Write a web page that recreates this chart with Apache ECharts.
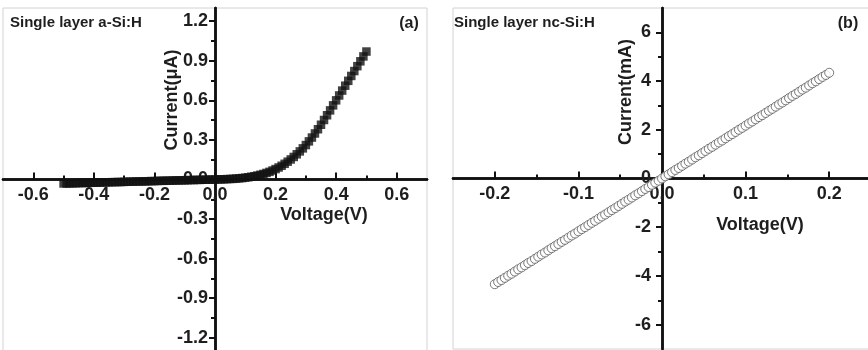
<!DOCTYPE html>
<html><head><meta charset="utf-8">
<script src="https://cdn.jsdelivr.net/npm/echarts@6/dist/echarts.min.js"></script>
<style>html,body{margin:0;padding:0;background:#fff}#c{width:868px;height:350px}</style>
</head><body><div id="c"></div><script>
// Panel (a): single layer a-Si:H, current in µA
const voltageA = [-0.50,-0.49,-0.48,-0.47,-0.46,-0.45,-0.44,-0.43,-0.42,-0.41,-0.40,-0.39,-0.38,-0.37,-0.36,-0.35,-0.34,-0.33,-0.32,-0.31,-0.30,-0.29,-0.28,-0.27,-0.26,-0.25,-0.24,-0.23,-0.22,-0.21,-0.20,-0.19,-0.18,-0.17,-0.16,-0.15,-0.14,-0.13,-0.12,-0.11,-0.10,-0.09,-0.08,-0.07,-0.06,-0.05,-0.04,-0.03,-0.02,-0.01,
  0.00,0.01,0.02,0.03,0.04,0.05,0.06,0.07,0.08,0.09,0.10,0.11,0.12,0.13,0.14,0.15,0.16,0.17,0.18,0.19,0.20,0.21,0.22,0.23,0.24,0.25,0.26,0.27,0.28,0.29,0.30,0.31,0.32,0.33,0.34,0.35,0.36,0.37,0.38,0.39,0.40,0.41,0.42,0.43,0.44,0.45,0.46,0.47,0.48,0.49,0.50];
const currentA = [-0.030,-0.030,-0.029,-0.029,-0.028,-0.027,-0.027,-0.026,-0.026,-0.025,-0.024,-0.024,-0.023,-0.022,-0.022,-0.021,-0.020,-0.020,-0.019,-0.019,-0.018,-0.017,-0.017,-0.016,-0.015,-0.015,-0.014,-0.014,-0.013,-0.012,-0.012,-0.011,-0.010,-0.010,-0.009,-0.009,-0.008,-0.007,-0.007,-0.006,-0.006,-0.005,-0.004,-0.004,-0.003,-0.003,-0.002,-0.002,-0.001,-0.001,
  0.000,0.001,0.001,0.002,0.003,0.004,0.005,0.007,0.009,0.011,
  0.014,0.017,0.021,0.025,0.030,0.036,0.042,0.050,0.058,0.068,
  0.079,0.091,0.104,0.119,0.135,0.152,0.171,0.191,0.213,0.236,
  0.261,0.289,0.318,0.349,0.381,0.415,0.451,0.487,0.524,0.562,
  0.600,0.637,0.674,0.711,0.748,0.785,0.822,0.859,0.896,0.933,0.970];
// Panel (b): single layer nc-Si:H, current in mA
const voltageB = [-0.2,-0.196,-0.192,-0.188,-0.184,-0.18,-0.176,-0.172,-0.168,-0.164,-0.16,-0.156,-0.152,-0.148,-0.144,-0.14,-0.136,-0.132,-0.128,-0.124,-0.12,-0.116,-0.112,-0.108,-0.104,-0.1,-0.096,-0.092,-0.088,-0.084,-0.08,-0.076,-0.072,-0.068,-0.064,-0.06,-0.056,-0.052,-0.048,-0.044,-0.04,-0.036,-0.032,-0.028,-0.024,-0.02,-0.016,-0.012,-0.008,-0.004,
  0,0.004,0.008,0.012,0.016,0.02,0.024,0.028,0.032,0.036,0.04,0.044,0.048,0.052,0.056,0.06,0.064,0.068,0.072,0.076,0.08,0.084,0.088,0.092,0.096,0.1,0.104,0.108,0.112,0.116,0.12,0.124,0.128,0.132,0.136,0.14,0.144,0.148,0.152,0.156,0.16,0.164,0.168,0.172,0.176,0.18,0.184,0.188,0.192,0.196,0.2];
const currentB = [-4.34,-4.25,-4.17,-4.08,-3.99,-3.91,-3.82,-3.73,-3.65,-3.56,-3.47,-3.39,-3.30,-3.21,-3.12,-3.04,-2.95,-2.86,-2.78,-2.69,-2.60,-2.52,-2.43,-2.34,-2.26,-2.17,-2.08,-2.00,-1.91,-1.82,-1.74,-1.65,-1.56,-1.48,-1.39,-1.30,-1.22,-1.13,-1.04,-0.95,-0.87,-0.78,-0.69,-0.61,-0.52,-0.43,-0.35,-0.26,-0.17,-0.09,
  0,0.09,0.17,0.26,0.35,0.43,0.52,0.61,0.69,0.78,0.87,0.95,1.04,1.13,1.22,1.30,1.39,1.48,1.56,1.65,1.74,1.82,1.91,2.00,2.08,2.17,2.26,2.34,2.43,2.52,2.60,2.69,2.78,2.86,2.95,3.04,3.12,3.21,3.30,3.39,3.47,3.56,3.65,3.73,3.82,3.91,3.99,4.08,4.17,4.25,4.34];
// Tick values
const xTicksA = [-0.6,-0.4,-0.2,0,0.2,0.4,0.6];
const xMinorA = [-0.5,-0.3,-0.1,0.1,0.3,0.5];
const yTicksA = [-1.2,-0.9,-0.6,-0.3,0,0.3,0.6,0.9,1.2];
const yMinorA = [-1.05,-0.75,-0.45,-0.15,0.15,0.45,0.75,1.05];
const xTicksB = [-0.2,-0.1,0,0.1,0.2];
const xMinorB = [-0.15,-0.05,0.05,0.15];
const yTicksB = [-6,-4,-2,0,2,4,6];
const yMinorB = [-5,-3,-1,1,3,5];
// Texts
const titleA = 'Single layer a-Si:H', titleB = 'Single layer nc-Si:H';
const yNameA = 'Current(\u03bcA)', yNameB = 'Current(mA)', xName = 'Voltage(V)';

const FONT = '"Liberation Sans", Arial, sans-serif';
const TXT = '#1e1e1e';
const AX = '#111';
const LBL = 18;

// axis ranges
const xRangeA = [-0.7, 0.7], yRangeA = [-1.3, 1.3];
const xRangeB = [-0.25, 0.25], yRangeB = [-7, 7];
const gridA = {left: 3, top: 8, width: 424, height: 343};
const gridB = {left: 453, top: 8, width: 418, height: 341};

// offset that moves an axis from the grid edge to the zero of the other axis
const zeroOff = (range, size) => -((0 - range[0]) / (range[1] - range[0])) * size;

function xAx(grid, range, g, yRange, ticks, len, labels, fmt) {
  return {
    type: 'value', gridIndex: grid, min: range[0], max: range[1], position: 'bottom',
    offset: zeroOff(yRange, g.height),
    axisLine: {show: true, onZero: false, lineStyle: {color: AX, width: 2.5}},
    axisTick: {show: true, inside: true, length: len, customValues: ticks, lineStyle: {color: AX, width: 2}},
    axisLabel: labels ? {customValues: ticks, formatter: fmt, fontSize: LBL, fontWeight: 'bold', fontFamily: FONT, color: TXT, margin: 7} : {show: false},
    splitLine: {show: false}
  };
}
function yAx(grid, range, g, xRange, ticks, len, labels, fmt, margin) {
  return {
    type: 'value', gridIndex: grid, min: range[0], max: range[1], position: 'left',
    offset: zeroOff(xRange, g.width),
    axisLine: {show: true, onZero: false, lineStyle: {color: AX, width: 2.5}},
    axisTick: {show: true, inside: false, length: len, customValues: ticks, lineStyle: {color: AX, width: 2}},
    axisLabel: labels ? {customValues: ticks, formatter: fmt, fontSize: LBL, fontWeight: 'bold', fontFamily: FONT, color: TXT, margin: margin} : {show: false},
    splitLine: {show: false}
  };
}
const f1 = v => Number(v).toFixed(1);
const f0 = v => String(Math.round(v));

function txt(text, x, y, size, align, rot) {
  return {
    type: 'text', x: x, y: y, rotation: rot || 0, z: 10,
    style: {text: text, font: 'bold ' + size + 'px ' + FONT, fill: TXT,
      align: align, verticalAlign: 'middle', textAlign: align, textVerticalAlign: 'middle'}
  };
}

const base = {containLabel: false, outerBoundsMode: 'none'};

const chart = echarts.init(document.getElementById('c'), null, {renderer: 'canvas'});
chart.setOption({
  animation: false,
  backgroundColor: '#fff',
  grid: [
    Object.assign({show: true, borderColor: '#d2d2d2', borderWidth: 1, backgroundColor: 'transparent'}, base, gridA),
    Object.assign({show: false}, base, gridA),
    Object.assign({show: true, borderColor: '#d2d2d2', borderWidth: 1, backgroundColor: 'transparent'}, base, gridB),
    Object.assign({show: false}, base, gridB)
  ],
  xAxis: [
    xAx(0, xRangeA, gridA, yRangeA, xTicksA, 7, true, f1),
    xAx(1, xRangeA, gridA, yRangeA, xMinorA, 4, false),
    xAx(2, xRangeB, gridB, yRangeB, xTicksB, 7, true, f1),
    xAx(3, xRangeB, gridB, yRangeB, xMinorB, 4, false)
  ],
  yAxis: [
    yAx(0, yRangeA, gridA, xRangeA, yTicksA, 6, true, f1, 7),
    yAx(1, yRangeA, gridA, xRangeA, yMinorA, 4, false),
    yAx(2, yRangeB, gridB, xRangeB, yTicksB, 6, true, f0, 11),
    yAx(3, yRangeB, gridB, xRangeB, yMinorB, 4, false)
  ],
  series: [
    {type: 'scatter', xAxisIndex: 0, yAxisIndex: 0, symbol: 'rect', symbolSize: 8.5,
      itemStyle: {color: '#111'}, data: voltageA.map((v, i) => [v, currentA[i]])},
    {type: 'scatter', xAxisIndex: 2, yAxisIndex: 2, symbol: 'circle', symbolSize: 9,
      itemStyle: {color: '#fff', borderColor: '#5a5a5a', borderWidth: 1}, data: voltageB.map((v, i) => [v, currentB[i]])}
  ],
  graphic: [
    txt(titleA, 10, 23, 15, 'left'),
    txt('(a)', 409, 24, 16, 'center'),
    txt(yNameA, 172, 100, 18, 'center', Math.PI / 2),
    txt(xName, 324, 215, 18, 'center'),
    txt(titleB, 454, 23, 15, 'left'),
    txt('(b)', 848, 24, 16, 'center'),
    txt(yNameB, 626, 92, 18, 'center', Math.PI / 2),
    txt(xName, 760, 225, 18, 'center')
  ]
});
</script></body></html>
